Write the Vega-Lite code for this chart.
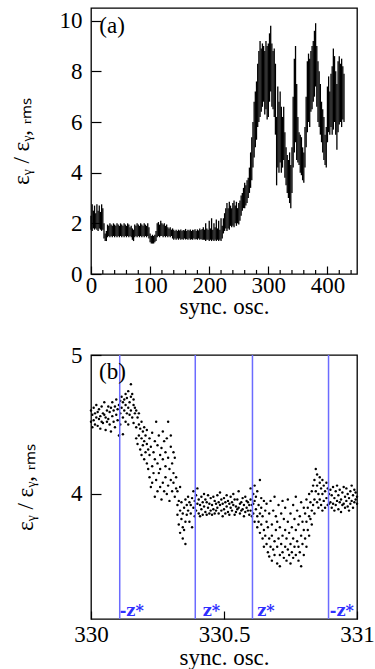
{
  "$schema": "https://vega.github.io/schema/vega-lite/v6.json",
  "padding": {"left": 9, "top": 7, "right": 0, "bottom": 0},
  "spacing": 24,
  "config": {
    "view": {"stroke": "black", "strokeWidth": 1.3},
    "axis": {"domain": false, "grid": false, "labelFont": "Liberation Serif", "labelFontSize": 23, "titleFont": "Liberation Serif", "titleFontSize": 23, "titleFontWeight": "normal", "tickColor": "black", "labelColor": "black", "titleColor": "black", "tickWidth": 1.2, "labelOverlap": false, "labelFlush": false}
  },
  "datasets": {
    "top": [
      {"x":0,"lo":1.75,"hi":2.3},{"x":2,"lo":1.7,"hi":2.75},{"x":4,"lo":1.8,"hi":2.5},{"x":6,"lo":1.75,"hi":2.7},{"x":8,"lo":1.8,"hi":2.4},{"x":10,"lo":1.75,"hi":2.75},{"x":12,"lo":1.7,"hi":2.5},{"x":14,"lo":1.8,"hi":2.7},{"x":16,"lo":1.75,"hi":2.45},{"x":18,"lo":1.7,"hi":2.75},{"x":20,"lo":1.75,"hi":2.6},{"x":22,"lo":1.4,"hi":2.0},{"x":24,"lo":1.3,"hi":1.6},{"x":26,"lo":1.3,"hi":1.7},{"x":28,"lo":1.45,"hi":1.95},{"x":30,"lo":1.5,"hi":1.9},{"x":32,"lo":1.45,"hi":2.0},{"x":34,"lo":1.5,"hi":1.95},{"x":36,"lo":1.45,"hi":1.9},{"x":38,"lo":1.5,"hi":2.0},{"x":40,"lo":1.45,"hi":1.95},{"x":42,"lo":1.5,"hi":1.9},{"x":44,"lo":1.45,"hi":2.0},{"x":46,"lo":1.5,"hi":1.95},{"x":48,"lo":1.45,"hi":1.9},{"x":50,"lo":1.5,"hi":2.0},{"x":52,"lo":1.45,"hi":1.95},{"x":54,"lo":1.5,"hi":1.9},{"x":56,"lo":1.45,"hi":2.0},{"x":58,"lo":1.5,"hi":1.95},{"x":60,"lo":1.45,"hi":1.9},{"x":62,"lo":1.5,"hi":2.0},{"x":64,"lo":1.45,"hi":1.95},{"x":66,"lo":1.5,"hi":1.85},{"x":68,"lo":1.45,"hi":1.9},{"x":70,"lo":1.35,"hi":1.8},{"x":72,"lo":1.3,"hi":1.75},{"x":74,"lo":1.45,"hi":1.95},{"x":76,"lo":1.5,"hi":1.9},{"x":78,"lo":1.45,"hi":2.0},{"x":80,"lo":1.5,"hi":1.95},{"x":82,"lo":1.45,"hi":1.9},{"x":84,"lo":1.5,"hi":2.0},{"x":86,"lo":1.45,"hi":1.95},{"x":88,"lo":1.5,"hi":1.9},{"x":90,"lo":1.45,"hi":2.0},{"x":92,"lo":1.5,"hi":1.95},{"x":94,"lo":1.45,"hi":1.9},{"x":96,"lo":1.5,"hi":2.0},{"x":98,"lo":1.4,"hi":1.85},{"x":100,"lo":1.25,"hi":1.6},{"x":102,"lo":1.2,"hi":1.5},{"x":104,"lo":1.2,"hi":1.55},{"x":106,"lo":1.2,"hi":1.5},{"x":108,"lo":1.25,"hi":1.55},{"x":110,"lo":1.3,"hi":1.7},{"x":112,"lo":1.45,"hi":2.0},{"x":114,"lo":1.5,"hi":2.05},{"x":116,"lo":1.45,"hi":1.95},{"x":118,"lo":1.5,"hi":2.1},{"x":120,"lo":1.5,"hi":2.0},{"x":122,"lo":1.45,"hi":1.95},{"x":124,"lo":1.5,"hi":2.0},{"x":126,"lo":1.45,"hi":1.9},{"x":128,"lo":1.5,"hi":1.95},{"x":130,"lo":1.45,"hi":1.85},{"x":132,"lo":1.5,"hi":1.8},{"x":134,"lo":1.45,"hi":1.85},{"x":136,"lo":1.5,"hi":1.75},{"x":138,"lo":1.4,"hi":1.8},{"x":140,"lo":1.35,"hi":1.75},{"x":142,"lo":1.4,"hi":1.7},{"x":144,"lo":1.35,"hi":1.75},{"x":146,"lo":1.4,"hi":1.7},{"x":148,"lo":1.35,"hi":1.75},{"x":150,"lo":1.4,"hi":1.72},{"x":152,"lo":1.35,"hi":1.76},{"x":154,"lo":1.38,"hi":1.7},{"x":156,"lo":1.35,"hi":1.74},{"x":158,"lo":1.4,"hi":1.72},{"x":160,"lo":1.36,"hi":1.78},{"x":162,"lo":1.38,"hi":1.7},{"x":164,"lo":1.35,"hi":1.75},{"x":166,"lo":1.4,"hi":1.72},{"x":168,"lo":1.35,"hi":1.76},{"x":170,"lo":1.37,"hi":1.7},{"x":172,"lo":1.35,"hi":1.75},{"x":174,"lo":1.4,"hi":1.73},{"x":176,"lo":1.36,"hi":1.77},{"x":178,"lo":1.38,"hi":1.7},{"x":180,"lo":1.35,"hi":1.76},{"x":182,"lo":1.4,"hi":1.72},{"x":184,"lo":1.35,"hi":1.8},{"x":186,"lo":1.38,"hi":1.74},{"x":188,"lo":1.35,"hi":1.78},{"x":190,"lo":1.35,"hi":1.85},{"x":192,"lo":1.35,"hi":1.75},{"x":194,"lo":1.3,"hi":2.0},{"x":196,"lo":1.35,"hi":1.8},{"x":198,"lo":1.35,"hi":1.75},{"x":200,"lo":1.3,"hi":2.1},{"x":202,"lo":1.35,"hi":1.8},{"x":204,"lo":1.3,"hi":2.2},{"x":206,"lo":1.35,"hi":1.75},{"x":208,"lo":1.3,"hi":2.0},{"x":210,"lo":1.35,"hi":1.85},{"x":212,"lo":1.3,"hi":2.15},{"x":214,"lo":1.35,"hi":1.8},{"x":216,"lo":1.3,"hi":2.1},{"x":218,"lo":1.35,"hi":1.75},{"x":220,"lo":1.3,"hi":2.2},{"x":222,"lo":1.4,"hi":1.9},{"x":224,"lo":1.6,"hi":2.2},{"x":226,"lo":1.7,"hi":2.4},{"x":228,"lo":1.8,"hi":2.6},{"x":230,"lo":1.7,"hi":2.8},{"x":232,"lo":1.8,"hi":2.6},{"x":234,"lo":1.75,"hi":2.85},{"x":236,"lo":1.9,"hi":2.7},{"x":238,"lo":1.85,"hi":2.6},{"x":240,"lo":1.9,"hi":2.8},{"x":242,"lo":1.85,"hi":2.9},{"x":244,"lo":2.0,"hi":2.7},{"x":246,"lo":1.9,"hi":2.85},{"x":248,"lo":2.0,"hi":2.6},{"x":250,"lo":1.95,"hi":2.8},{"x":252,"lo":2.1,"hi":2.9},{"x":254,"lo":2.3,"hi":3.1},{"x":256,"lo":2.5,"hi":3.2},{"x":258,"lo":2.6,"hi":3.4},{"x":260,"lo":2.6,"hi":3.6},{"x":262,"lo":2.7,"hi":3.5},{"x":264,"lo":2.8,"hi":3.7},{"x":266,"lo":3.0,"hi":3.8},{"x":268,"lo":3.2,"hi":4.2},{"x":270,"lo":3.4,"hi":4.8},{"x":272,"lo":3.7,"hi":5.4},{"x":274,"lo":4.2,"hi":6.0},{"x":276,"lo":4.6,"hi":6.8},{"x":278,"lo":5.0,"hi":7.2},{"x":280,"lo":5.3,"hi":7.6},{"x":282,"lo":5.8,"hi":8.3},{"x":284,"lo":6.0,"hi":8.8},{"x":286,"lo":6.2,"hi":9.2},{"x":288,"lo":6.4,"hi":8.9},{"x":290,"lo":6.6,"hi":9.1},{"x":292,"lo":6.8,"hi":9.0},{"x":294,"lo":6.3,"hi":8.8},{"x":296,"lo":6.5,"hi":9.2},{"x":298,"lo":6.1,"hi":9.0},{"x":300,"lo":6.2,"hi":9.1},{"x":302,"lo":6.8,"hi":9.5},{"x":304,"lo":7.2,"hi":9.8},{"x":306,"lo":6.6,"hi":9.1},{"x":308,"lo":6.5,"hi":8.8},{"x":310,"lo":6.2,"hi":8.9},{"x":312,"lo":5.5,"hi":8.3},{"x":314,"lo":3.5,"hi":6.2},{"x":316,"lo":4.2,"hi":7.4},{"x":318,"lo":4.0,"hi":6.8},{"x":320,"lo":4.4,"hi":7.2},{"x":322,"lo":4.0,"hi":6.6},{"x":324,"lo":4.2,"hi":6.2},{"x":326,"lo":4.5,"hi":6.6},{"x":328,"lo":3.8,"hi":5.6},{"x":330,"lo":3.5,"hi":5.0},{"x":332,"lo":3.2,"hi":4.7},{"x":334,"lo":3.0,"hi":4.5},{"x":336,"lo":2.8,"hi":4.8},{"x":338,"lo":2.6,"hi":4.3},{"x":340,"lo":3.2,"hi":5.0},{"x":342,"lo":4.2,"hi":7.0},{"x":344,"lo":4.8,"hi":8.5},{"x":346,"lo":5.2,"hi":9.0},{"x":348,"lo":4.5,"hi":7.5},{"x":350,"lo":4.4,"hi":6.2},{"x":352,"lo":4.3,"hi":5.6},{"x":354,"lo":4.0,"hi":5.5},{"x":356,"lo":3.9,"hi":5.4},{"x":358,"lo":3.7,"hi":5.0},{"x":360,"lo":3.6,"hi":4.8},{"x":362,"lo":4.2,"hi":5.8},{"x":364,"lo":5.0,"hi":7.0},{"x":366,"lo":5.6,"hi":8.4},{"x":368,"lo":6.0,"hi":8.7},{"x":370,"lo":5.8,"hi":8.5},{"x":372,"lo":6.4,"hi":8.8},{"x":374,"lo":6.5,"hi":9.0},{"x":376,"lo":6.8,"hi":9.2},{"x":378,"lo":7.0,"hi":9.6},{"x":380,"lo":7.4,"hi":9.9},{"x":382,"lo":6.6,"hi":9.0},{"x":384,"lo":6.0,"hi":8.4},{"x":386,"lo":5.8,"hi":8.0},{"x":388,"lo":5.5,"hi":7.5},{"x":390,"lo":5.2,"hi":6.8},{"x":392,"lo":4.8,"hi":6.5},{"x":394,"lo":4.5,"hi":6.2},{"x":396,"lo":4.3,"hi":5.5},{"x":398,"lo":4.2,"hi":5.8},{"x":400,"lo":5.2,"hi":7.4},{"x":402,"lo":5.6,"hi":7.8},{"x":404,"lo":5.5,"hi":7.2},{"x":406,"lo":5.8,"hi":7.9},{"x":408,"lo":5.5,"hi":8.2},{"x":410,"lo":5.7,"hi":8.9},{"x":412,"lo":6.0,"hi":8.6},{"x":414,"lo":5.5,"hi":8.0},{"x":416,"lo":4.9,"hi":7.5},{"x":418,"lo":5.6,"hi":8.4},{"x":420,"lo":5.9,"hi":8.6},{"x":422,"lo":6.0,"hi":8.3},{"x":424,"lo":5.8,"hi":8.5},{"x":426,"lo":6.1,"hi":8.2},{"x":428,"lo":6.0,"hi":7.9}
    ],
    "minorx": [
      {"x":20},{"x":40},{"x":60},{"x":80},{"x":120},{"x":140},{"x":160},{"x":180},{"x":220},{"x":240},{"x":260},{"x":280},{"x":320},{"x":340},{"x":360},{"x":380},{"x":420},{"x":440}
    ],
    "bottom": [
      {"x":330.000,"y":4.52},{"x":330.000,"y":4.60},{"x":330.005,"y":4.57},{"x":330.005,"y":4.48},{"x":330.010,"y":4.62},{"x":330.010,"y":4.53},{"x":330.015,"y":4.50},{"x":330.015,"y":4.58},{"x":330.020,"y":4.55},{"x":330.020,"y":4.64},{"x":330.025,"y":4.49},{"x":330.025,"y":4.59},{"x":330.030,"y":4.61},{"x":330.030,"y":4.54},{"x":330.035,"y":4.56},{"x":330.035,"y":4.47},{"x":330.040,"y":4.63},{"x":330.040,"y":4.52},{"x":330.045,"y":4.51},{"x":330.045,"y":4.58},{"x":330.050,"y":4.57},{"x":330.050,"y":4.66},{"x":330.055,"y":4.46},{"x":330.055,"y":4.55},{"x":330.060,"y":4.60},{"x":330.060,"y":4.52},{"x":330.065,"y":4.54},{"x":330.065,"y":4.63},{"x":330.070,"y":4.50},{"x":330.070,"y":4.59},{"x":330.075,"y":4.62},{"x":330.075,"y":4.45},{"x":330.080,"y":4.56},{"x":330.080,"y":4.66},{"x":330.085,"y":4.52},{"x":330.085,"y":4.60},{"x":330.090,"y":4.63},{"x":330.090,"y":4.48},{"x":330.095,"y":4.57},{"x":330.095,"y":4.68},{"x":330.100,"y":4.53},{"x":330.100,"y":4.61},{"x":330.105,"y":4.42},{"x":330.105,"y":4.64},
      {"x":330.110,"y":4.58},{"x":330.110,"y":4.67},{"x":330.110,"y":4.50},{"x":330.115,"y":4.62},{"x":330.115,"y":4.70},{"x":330.120,"y":4.55},{"x":330.120,"y":4.66},{"x":330.120,"y":4.43},{"x":330.125,"y":4.68},{"x":330.125,"y":4.60},{"x":330.130,"y":4.52},{"x":330.130,"y":4.64},{"x":330.130,"y":4.72},{"x":330.135,"y":4.58},{"x":330.135,"y":4.69},{"x":330.140,"y":4.62},{"x":330.140,"y":4.50},{"x":330.140,"y":4.74},{"x":330.145,"y":4.66},{"x":330.145,"y":4.57},{"x":330.150,"y":4.60},{"x":330.150,"y":4.79},{"x":330.150,"y":4.70},{"x":330.155,"y":4.55},{"x":330.155,"y":4.72},{"x":330.160,"y":4.64},{"x":330.160,"y":4.51},{"x":330.160,"y":4.68},{"x":330.165,"y":4.58},{"x":330.165,"y":4.62},
      {"x":330.170,"y":4.48},{"x":330.170,"y":4.60},{"x":330.170,"y":4.40},{"x":330.175,"y":4.55},{"x":330.175,"y":4.36},{"x":330.180,"y":4.50},{"x":330.180,"y":4.42},{"x":330.180,"y":4.58},{"x":330.185,"y":4.32},{"x":330.185,"y":4.47},{"x":330.190,"y":4.40},{"x":330.190,"y":4.52},{"x":330.190,"y":4.28},{"x":330.195,"y":4.45},{"x":330.195,"y":4.35},{"x":330.200,"y":4.38},{"x":330.200,"y":4.25},{"x":330.200,"y":4.48},{"x":330.205,"y":4.30},{"x":330.205,"y":4.42},{"x":330.210,"y":4.22},{"x":330.210,"y":4.36},{"x":330.210,"y":4.46},{"x":330.215,"y":4.32},{"x":330.215,"y":4.18},
      {"x":330.220,"y":4.12},{"x":330.220,"y":4.28},{"x":330.220,"y":4.40},{"x":330.225,"y":4.05},{"x":330.225,"y":4.34},{"x":330.230,"y":4.20},{"x":330.230,"y":4.08},{"x":330.230,"y":4.44},{"x":330.235,"y":4.15},{"x":330.235,"y":4.30},{"x":330.240,"y":3.98},{"x":330.240,"y":4.25},{"x":330.240,"y":4.38},{"x":330.245,"y":4.10},{"x":330.245,"y":4.52},{"x":330.250,"y":4.02},{"x":330.250,"y":4.22},{"x":330.250,"y":4.35},{"x":330.255,"y":4.15},{"x":330.255,"y":4.42},{"x":330.260,"y":4.05},{"x":330.260,"y":4.28},{"x":330.260,"y":4.18},{"x":330.265,"y":3.96},{"x":330.265,"y":4.33},{"x":330.270,"y":4.08},{"x":330.270,"y":4.25},{"x":330.270,"y":4.45},{"x":330.275,"y":4.02},{"x":330.275,"y":4.38},{"x":330.280,"y":4.12},{"x":330.280,"y":4.20},{"x":330.280,"y":4.30},{"x":330.285,"y":4.00},{"x":330.285,"y":4.40},{"x":330.290,"y":4.06},{"x":330.290,"y":4.26},{"x":330.290,"y":4.52},{"x":330.295,"y":3.95},{"x":330.295,"y":4.18},{"x":330.300,"y":4.10},{"x":330.300,"y":4.34},{"x":330.300,"y":4.42},{"x":330.305,"y":4.02},{"x":330.305,"y":4.22},{"x":330.310,"y":4.08},{"x":330.310,"y":4.30},{"x":330.310,"y":4.15},{"x":330.315,"y":3.98},{"x":330.315,"y":4.26},{"x":330.320,"y":4.04},{"x":330.320,"y":4.12},
      {"x":330.325,"y":3.92},{"x":330.325,"y":3.85},{"x":330.325,"y":4.02},{"x":330.330,"y":3.78},{"x":330.330,"y":3.95},{"x":330.335,"y":3.88},{"x":330.335,"y":3.72},{"x":330.335,"y":4.05},{"x":330.340,"y":3.82},{"x":330.340,"y":3.94},{"x":330.345,"y":3.68},{"x":330.345,"y":3.86},{"x":330.345,"y":3.76},{"x":330.350,"y":3.90},{"x":330.350,"y":3.74},{"x":330.355,"y":3.80},{"x":330.355,"y":3.96},{"x":330.355,"y":3.64},{"x":330.360,"y":3.85},{"x":330.360,"y":3.92},
      {"x":330.365,"y":3.88},{"x":330.365,"y":3.98},{"x":330.370,"y":3.80},{"x":330.370,"y":3.94},{"x":330.375,"y":3.92},{"x":330.375,"y":3.86},{"x":330.380,"y":3.76},{"x":330.380,"y":3.97},{"x":330.385,"y":3.90},{"x":330.385,"y":4.02},{"x":330.390,"y":3.84},{"x":330.390,"y":3.95},{"x":330.395,"y":3.99},{"x":330.395,"y":3.88},{"x":330.400,"y":3.93},{"x":330.400,"y":4.04},{"x":330.405,"y":3.86},{"x":330.405,"y":3.96},{"x":330.410,"y":3.92},{"x":330.410,"y":3.84},{"x":330.415,"y":3.98},{"x":330.415,"y":3.89},{"x":330.420,"y":3.85},{"x":330.420,"y":3.94},{"x":330.425,"y":3.91},{"x":330.425,"y":4.00},{"x":330.430,"y":3.87},{"x":330.430,"y":3.96},{"x":330.435,"y":3.94},{"x":330.435,"y":3.85},{"x":330.440,"y":3.90},{"x":330.440,"y":3.99},{"x":330.445,"y":3.86},{"x":330.445,"y":3.93},{"x":330.450,"y":3.97},{"x":330.450,"y":3.88},{"x":330.455,"y":3.92},{"x":330.455,"y":3.85},{"x":330.460,"y":3.89},{"x":330.460,"y":3.98},{"x":330.465,"y":3.95},{"x":330.465,"y":3.86},{"x":330.470,"y":3.88},{"x":330.470,"y":3.93},{"x":330.475,"y":3.99},{"x":330.475,"y":3.90},{"x":330.480,"y":3.86},{"x":330.480,"y":3.94},{"x":330.485,"y":3.92},{"x":330.485,"y":4.01},{"x":330.490,"y":3.88},{"x":330.490,"y":3.96},{"x":330.495,"y":3.93},{"x":330.495,"y":3.84},{"x":330.500,"y":3.97},{"x":330.500,"y":3.89},{"x":330.505,"y":3.86},{"x":330.505,"y":3.94},{"x":330.510,"y":3.91},{"x":330.510,"y":3.99},{"x":330.515,"y":3.87},{"x":330.515,"y":3.95},{"x":330.520,"y":3.93},{"x":330.520,"y":3.85},{"x":330.525,"y":3.98},{"x":330.525,"y":3.90},{"x":330.530,"y":3.88},{"x":330.530,"y":3.94},{"x":330.535,"y":3.92},{"x":330.535,"y":4.00},{"x":330.540,"y":3.85},{"x":330.540,"y":3.96},{"x":330.545,"y":3.91},{"x":330.545,"y":3.87},{"x":330.550,"y":3.96},{"x":330.550,"y":3.89},{"x":330.555,"y":3.90},{"x":330.555,"y":4.02},{"x":330.560,"y":3.86},{"x":330.560,"y":3.93},{"x":330.565,"y":3.94},{"x":330.565,"y":3.88},{"x":330.570,"y":3.89},{"x":330.570,"y":3.97},{"x":330.575,"y":3.92},{"x":330.575,"y":3.84},{"x":330.580,"y":3.87},{"x":330.580,"y":3.98},{"x":330.585,"y":3.95},{"x":330.585,"y":3.90},{"x":330.590,"y":3.88},{"x":330.590,"y":3.94},{"x":330.595,"y":3.92},{"x":330.595,"y":3.85},
      {"x":330.600,"y":3.96},{"x":330.600,"y":3.88},{"x":330.600,"y":4.04},{"x":330.605,"y":3.92},{"x":330.605,"y":3.84},{"x":330.610,"y":4.00},{"x":330.610,"y":3.86},{"x":330.610,"y":3.93},{"x":330.615,"y":3.80},{"x":330.615,"y":3.95},{"x":330.615,"y":4.06},{"x":330.620,"y":3.89},{"x":330.620,"y":3.98},{"x":330.625,"y":3.84},{"x":330.625,"y":3.76},{"x":330.625,"y":4.02},{"x":330.630,"y":3.92},{"x":330.630,"y":3.80},{"x":330.635,"y":4.10},{"x":330.635,"y":3.86},{"x":330.635,"y":3.72},{"x":330.640,"y":3.97},{"x":330.640,"y":3.78},{"x":330.640,"y":3.90},{"x":330.645,"y":3.68},{"x":330.645,"y":3.84},{"x":330.650,"y":3.95},{"x":330.650,"y":3.74},{"x":330.650,"y":3.62},{"x":330.655,"y":3.88},{"x":330.655,"y":3.70},{"x":330.660,"y":3.80},{"x":330.660,"y":3.64},{"x":330.660,"y":3.93},{"x":330.665,"y":3.58},{"x":330.665,"y":3.76},{"x":330.670,"y":3.86},{"x":330.670,"y":3.68},{"x":330.670,"y":3.55},{"x":330.675,"y":3.95},{"x":330.675,"y":3.62},{"x":330.680,"y":3.78},{"x":330.680,"y":3.52},{"x":330.680,"y":3.70},{"x":330.685,"y":3.88},{"x":330.685,"y":3.60},{"x":330.690,"y":3.66},{"x":330.690,"y":3.98},{"x":330.690,"y":3.56},{"x":330.695,"y":3.74},{"x":330.695,"y":3.84},{"x":330.700,"y":3.50},{"x":330.700,"y":3.62},{"x":330.700,"y":3.80},{"x":330.705,"y":3.92},{"x":330.705,"y":3.68},{"x":330.710,"y":3.56},{"x":330.710,"y":3.76},{"x":330.710,"y":3.48},{"x":330.715,"y":3.86},{"x":330.715,"y":3.64},{"x":330.720,"y":3.70},{"x":330.720,"y":3.58},{"x":330.720,"y":3.95},{"x":330.725,"y":3.82},{"x":330.725,"y":3.54},{"x":330.730,"y":3.62},{"x":330.730,"y":3.74},{"x":330.730,"y":3.90},{"x":330.735,"y":3.52},{"x":330.735,"y":3.68},{"x":330.740,"y":3.80},{"x":330.740,"y":3.60},{"x":330.740,"y":3.96},{"x":330.745,"y":3.56},{"x":330.745,"y":3.72},{"x":330.750,"y":3.86},{"x":330.750,"y":3.64},{"x":330.750,"y":3.50},{"x":330.755,"y":3.76},{"x":330.755,"y":3.58},{"x":330.760,"y":3.92},{"x":330.760,"y":3.68},{"x":330.760,"y":3.54},{"x":330.765,"y":3.62},{"x":330.765,"y":3.82},{"x":330.770,"y":3.74},{"x":330.770,"y":3.56},{"x":330.770,"y":3.98},{"x":330.775,"y":3.66},{"x":330.775,"y":3.88},{"x":330.780,"y":3.52},{"x":330.780,"y":3.78},{"x":330.780,"y":3.62},{"x":330.785,"y":3.84},{"x":330.785,"y":3.58},{"x":330.790,"y":3.48},{"x":330.790,"y":3.70},{"x":330.790,"y":3.94},{"x":330.795,"y":3.64},{"x":330.795,"y":3.80},{"x":330.800,"y":3.56},{"x":330.800,"y":3.74},{"x":330.800,"y":3.90},{"x":330.805,"y":3.68},{"x":330.805,"y":3.86},{"x":330.810,"y":3.62},{"x":330.810,"y":3.80},{"x":330.810,"y":3.96},{"x":330.815,"y":3.74},{"x":330.815,"y":3.90},{"x":330.820,"y":3.70},{"x":330.820,"y":3.84},{"x":330.820,"y":4.00},{"x":330.825,"y":3.82},{"x":330.825,"y":3.94},{"x":330.830,"y":3.88},{"x":330.830,"y":4.02},{"x":330.830,"y":3.78},{"x":330.835,"y":3.92},{"x":330.835,"y":4.06},
      {"x":330.840,"y":3.96},{"x":330.840,"y":4.10},{"x":330.840,"y":3.86},{"x":330.845,"y":4.18},{"x":330.845,"y":4.02},{"x":330.850,"y":3.94},{"x":330.850,"y":4.14},{"x":330.850,"y":4.06},{"x":330.855,"y":4.00},{"x":330.855,"y":3.90},{"x":330.860,"y":4.08},{"x":330.860,"y":3.96},{"x":330.860,"y":4.12},{"x":330.865,"y":3.92},{"x":330.865,"y":4.04},{"x":330.870,"y":4.00},{"x":330.870,"y":3.88},{"x":330.870,"y":4.10},{"x":330.875,"y":3.95},{"x":330.875,"y":4.06},{"x":330.880,"y":4.02},{"x":330.880,"y":3.90},{"x":330.885,"y":3.97},{"x":330.885,"y":4.08},{"x":330.890,"y":3.92},{"x":330.890,"y":4.04},{"x":330.895,"y":4.00},{"x":330.895,"y":3.93},
      {"x":330.900,"y":3.94},{"x":330.900,"y":4.03},{"x":330.905,"y":3.90},{"x":330.905,"y":3.99},{"x":330.910,"y":4.05},{"x":330.910,"y":3.93},{"x":330.915,"y":3.97},{"x":330.915,"y":3.88},{"x":330.920,"y":4.02},{"x":330.920,"y":3.92},{"x":330.925,"y":3.95},{"x":330.925,"y":4.06},{"x":330.930,"y":3.89},{"x":330.930,"y":3.99},{"x":330.935,"y":4.03},{"x":330.935,"y":3.94},{"x":330.940,"y":3.96},{"x":330.940,"y":3.87},{"x":330.945,"y":4.01},{"x":330.945,"y":3.92},{"x":330.950,"y":3.93},{"x":330.950,"y":4.05},{"x":330.955,"y":3.98},{"x":330.955,"y":3.90},{"x":330.960,"y":4.04},{"x":330.960,"y":3.95},{"x":330.965,"y":3.91},{"x":330.965,"y":4.00},{"x":330.970,"y":3.97},{"x":330.970,"y":3.88},{"x":330.975,"y":4.02},{"x":330.975,"y":3.93},{"x":330.980,"y":3.95},{"x":330.980,"y":4.06},{"x":330.985,"y":3.90},{"x":330.985,"y":3.99},{"x":330.990,"y":4.03},{"x":330.990,"y":3.94},{"x":330.995,"y":3.96},{"x":330.995,"y":4.01},{"x":331.000,"y":3.93},{"x":331.000,"y":3.98}
    ],
    "zlines": [
      {"x":330.108,"lx":330.108,"t":"-z*"},{"x":330.392,"lx":330.42,"t":"z*"},{"x":330.607,"lx":330.625,"t":"z*"},{"x":330.893,"lx":330.898,"t":"-z*"}
    ]
  },
  "vconcat": [
    {
      "width": 266, "height": 266,
      "layer": [
        {
          "data": {"name": "top"},
          "mark": {"type": "rule", "color": "black", "strokeWidth": 1.3},
          "encoding": {
            "x": {"field": "x", "type": "quantitative", "scale": {"domain": [0, 450], "nice": false, "zero": false},
                  "axis": {"title": "sync. osc.", "values": [0, 100, 200, 300, 400], "labelOverlap": false, "labelFlush": false, "tickSize": -8, "labelPadding": 8, "titlePadding": -2}},
            "y": {"field": "lo", "type": "quantitative", "scale": {"domain": [0, 10.5], "nice": false},
                  "axis": {"title": "εᵧ / εᵧ, ᵣₘₛ", "values": [0,0.5,1,1.5,2,2.5,3,3.5,4,4.5,5,5.5,6,6.5,7,7.5,8,8.5,9,9.5,10], "labelExpr": "datum.value % 2 === 0 ? datum.label : ''", "labelOverlap": false, "tickSize": {"condition": {"test": "datum.value % 2 === 0", "value": -10}, "value": -5}, "labelPadding": 19, "titlePadding": 26}},
            "y2": {"field": "hi"}
          }
        },
        {
          "data": {"name": "minorx"},
          "mark": {"type": "rule", "color": "black", "strokeWidth": 1.2},
          "encoding": {"x": {"field": "x", "type": "quantitative"}, "y": {"datum": 0}, "y2": {"datum": 0.16}}
        },
        {
          "data": {"values": [{"x": 14, "y": 9.8, "t": "(a)"}]},
          "mark": {"type": "text", "align": "left", "baseline": "middle", "font": "Liberation Serif", "fontSize": 23, "color": "black"},
          "encoding": {"x": {"field": "x", "type": "quantitative"}, "y": {"field": "y", "type": "quantitative"}, "text": {"field": "t"}}
        }
      ]
    },
    {
      "width": 266, "height": 264,
      "layer": [
        {
          "data": {"name": "bottom"},
          "mark": {"type": "circle", "color": "black", "size": 6, "opacity": 1},
          "encoding": {
            "x": {"field": "x", "type": "quantitative", "scale": {"domain": [330, 331], "nice": false, "zero": false},
                  "axis": {"title": "sync. osc.", "values": [330, 330.5, 331], "format": "~g", "labelOverlap": false, "labelFlush": false, "tickSize": -8, "labelPadding": 12, "titlePadding": 0}},
            "y": {"field": "y", "type": "quantitative", "scale": {"domain": [3.1, 5], "nice": false, "zero": false},
                  "axis": {"title": "εᵧ / εᵧ, ᵣₘₛ", "values": [4, 5], "format": "~g", "labelOverlap": false, "tickSize": -10, "labelPadding": 19, "titlePadding": 33}}
          }
        },
        {
          "data": {"name": "zlines"},
          "mark": {"type": "rule", "color": "#6b6bff", "strokeWidth": 1.5},
          "encoding": {"x": {"field": "x", "type": "quantitative"}}
        },
        {
          "data": {"name": "zlines"},
          "mark": {"type": "text", "align": "left", "baseline": "alphabetic", "font": "DejaVu Serif", "fontWeight": "bold", "fontSize": 16, "color": "#2f2fff"},
          "encoding": {"x": {"field": "lx", "type": "quantitative"}, "y": {"datum": 3.12, "type": "quantitative"}, "text": {"field": "t"}}
        },
        {
          "data": {"values": [{"x": 330.03, "y": 4.88, "t": "(b)"}]},
          "mark": {"type": "text", "align": "left", "baseline": "middle", "font": "Liberation Serif", "fontSize": 23, "color": "black"},
          "encoding": {"x": {"field": "x", "type": "quantitative"}, "y": {"field": "y", "type": "quantitative"}, "text": {"field": "t"}}
        }
      ]
    }
  ]
}
